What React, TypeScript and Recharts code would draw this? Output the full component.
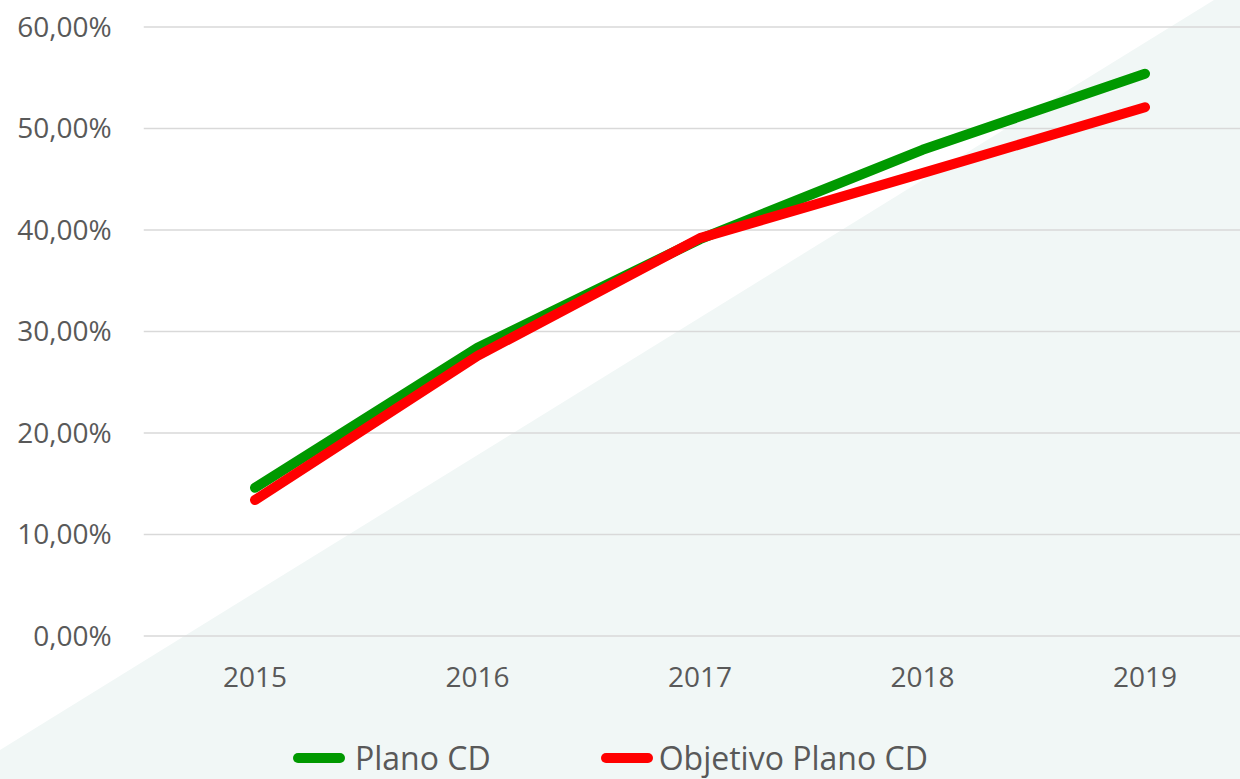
import React from 'react';
import { LineChart, Line, XAxis, YAxis, CartesianGrid, Legend } from 'recharts';

const years = ['2015', '2016', '2017', '2018', '2019'];
const planoCD = [14.6, 28.4, 39.1, 47.9, 55.4];
const objetivoPlanoCD = [13.4, 27.6, 39.2, 45.6, 52.1];
const yTicks = [0, 10, 20, 30, 40, 50, 60];

const GREEN = '#009900';
const RED = '#ff0000';
const TEXT = '#595959';
const FONT = '"Open Sans", "Noto Sans", sans-serif';

const chartData = years.map((year, i) => ({
  year,
  plano: planoCD[i],
  objetivo: objetivoPlanoCD[i],
}));

const fmtPct = (v: number) => `${v.toFixed(2).replace('.', ',')}%`;

const LegendContent = () => {
  const items = [
    { label: 'Plano CD', color: GREEN, gap: 10 },
    { label: 'Objetivo Plano CD', color: RED, gap: 6 },
  ];
  return (
    <div style={{ display: 'flex', alignItems: 'center', paddingLeft: 293, paddingTop: 55, fontFamily: FONT }}>
      {items.map((it, i) => (
        <div key={it.label} style={{ display: 'flex', alignItems: 'center', marginRight: i === 0 ? 110 : 0 }}>
          <div style={{ width: 52, height: 10, borderRadius: 5, background: it.color, marginRight: it.gap }} />
          <span style={{ fontSize: 32, color: TEXT, lineHeight: '34px' }}>{it.label}</span>
        </div>
      ))}
    </div>
  );
};

export default function App() {
  return (
    <div style={{ position: 'absolute', left: 0, top: 0, width: 1240, height: 779, overflow: 'hidden', background: '#ffffff' }}>
      <svg width={1240} height={779} style={{ position: 'absolute', left: 0, top: 0 }}>
        <polygon points="0,750 1214,0 1240,0 1240,779 0,779" fill="#f1f7f6" />
      </svg>
      <div style={{ position: 'absolute', left: 0, top: 0 }}>
        <LineChart
          width={1260}
          height={779}
          data={chartData}
          margin={{ top: 27, right: 3.75, bottom: 0, left: 0 }}
        >
          <CartesianGrid vertical={false} stroke="#d9d9d9" strokeWidth={1.5} />
          <XAxis
            dataKey="year"
            axisLine={false}
            tickLine={false}
            tickSize={0}
            tickMargin={31}
            height={50}
            padding={{ left: 111.25, right: 111.25 }}
            tick={{ fill: TEXT, fontSize: 28, fontFamily: FONT }}
          />
          <YAxis
            domain={[0, 60]}
            ticks={yTicks}
            tickFormatter={fmtPct}
            axisLine={false}
            tickLine={false}
            tickSize={0}
            tickMargin={32}
            width={143.75}
            tick={{ fill: TEXT, fontSize: 28, fontFamily: FONT }}
          />
          <Legend
            verticalAlign="bottom"
            height={93}
            wrapperStyle={{ left: 0, width: 1240 }}
            content={<LegendContent />}
          />
          <Line
            type="linear"
            dataKey="plano"
            name="Plano CD"
            stroke={GREEN}
            strokeWidth={10}
            strokeLinecap="round"
            strokeLinejoin="round"
            dot={false}
            activeDot={false}
            isAnimationActive={false}
          />
          <Line
            type="linear"
            dataKey="objetivo"
            name="Objetivo Plano CD"
            stroke={RED}
            strokeWidth={10}
            strokeLinecap="round"
            strokeLinejoin="round"
            dot={false}
            activeDot={false}
            isAnimationActive={false}
          />
        </LineChart>
      </div>
    </div>
  );
}
